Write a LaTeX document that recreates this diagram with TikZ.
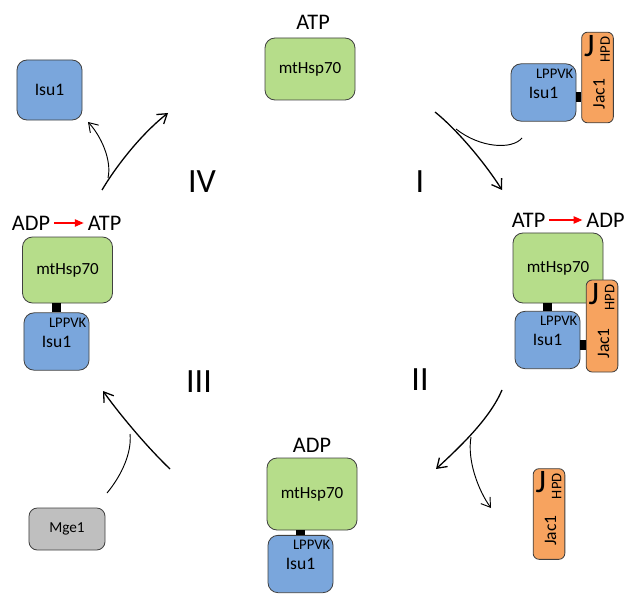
\documentclass[tikz,border=0pt]{standalone}
\usepackage{fontspec}
\setmainfont{Carlito}
\usepackage{tikz}
\usetikzlibrary{arrows.meta}
\usetikzlibrary{calc}
\usetikzlibrary{positioning}

\definecolor{hspgreen}{RGB}{182,221,138}
\definecolor{isublue}{RGB}{122,166,220}
\definecolor{jacorange}{RGB}{247,163,95}
\definecolor{mgegray}{RGB}{191,191,191}
\definecolor{edge}{RGB}{64,64,64}

\begin{document}
\begin{tikzpicture}[x=0.03cm, y=-0.03cm]
    \tikzstyle{hsp}=[draw=edge, fill=hspgreen, line width=0.7pt, rounded corners=3mm, inner sep=0pt, minimum width=2.7cm, font=\fontsize{14.5}{16}\selectfont]
    \tikzstyle{isu}=[draw=edge, fill=isublue, line width=0.7pt, rounded corners=3mm, inner sep=0pt, minimum width=1.95cm, minimum height=1.72cm, font=\fontsize{15}{17}\selectfont]
    \tikzstyle{jac}=[draw=edge, fill=jacorange, line width=0.7pt, rounded corners=1.8mm, inner sep=0pt, minimum width=0.95cm, minimum height=2.72cm]
    \tikzstyle{mge}=[draw=edge, fill=mgegray, line width=0.7pt, rounded corners=2.5mm, inner sep=0pt, minimum width=2.28cm, minimum height=1.26cm, font=\fontsize{13}{15}\selectfont]
    \tikzstyle{motif}=[inner sep=0pt, font=\fontsize{12.5}{14}\selectfont]
    \tikzstyle{jbig}=[inner sep=0pt, font=\fontsize{28}{30}\selectfont]
    \tikzstyle{hpd}=[inner sep=0pt, rotate=90, font=\fontsize{12.5}{14}\selectfont]
    \tikzstyle{jlbl}=[inner sep=0pt, rotate=90, font=\fontsize{15}{17}\selectfont]
    \tikzstyle{nuc}=[font=\fontsize{19}{21}\selectfont]
    \tikzstyle{roman}=[font=\fontsize{29}{31}\selectfont]
    \tikzset{bond/.style={line width=2.6mm, black},
      cyc/.style={line width=1.1pt, -{Straight Barb[length=2.7mm, width=3.6mm]}},
      side/.style={line width=0.8pt},
      conv/.style={red, line width=0.9pt, -{Triangle[length=2.6mm, width=2.2mm]}}}
    \useasboundingbox (0,0) rectangle (629,597);
    % top: mtHsp70 with ATP, Isu1 with Jac1
    \node[nuc] (atpT) at (313,22) {ATP};
    \node[hsp, minimum height=1.86cm] (hT) at (310,69) {mtHsp70};
    \node[isu] (iTR) at (543.5,92.5) {Isu1};
    \node[jac] (jTR) at (597.5,77.5) {};
    % right
    \node[nuc] (atpR) at (528.5,220) {ATP};
    \node[nuc] (adpR) at (605.5,220) {ADP};
    \node[hsp, minimum height=2.1cm] (hR) at (558,268) {mtHsp70};
    \node[isu] (iR) at (547.5,340) {Isu1};
    \node[jac, minimum height=2.76cm] (jR) at (602,326) {};
    % bottom
    \node[nuc] (adpB) at (312,445) {ADP};
    \node[hsp, minimum height=2.16cm] (hB) at (312,494) {mtHsp70};
    \node[isu] (iB) at (300.5,564) {Isu1};
    \node[jac] (jF) at (549,514) {};
    \node[mge] (mge) at (67,529) {Mge1};
    % left
    \node[nuc] (adpL) at (31,223) {ADP};
    \node[nuc] (atpL) at (104.5,223) {ATP};
    \node[hsp, minimum height=1.98cm] (hL) at (67.5,270) {mtHsp70};
    \node[isu] (iL) at (56.5,341.5) {Isu1};
    \node[isu, minimum height=1.8cm] (iTL) at (49.5,90) {Isu1};

    \foreach \i in {iTR, iR, iB, iL}
      {\node[motif, anchor=base east] at ($(\i.north east)+(-3,15)$) {LPPVK};}
    \foreach \j in {jTR, jR, jF}
      {\node[jbig] at ($(\j.north west)+(8,14)$) {J};
       \node[hpd] at ($(\j.north west)+(24,18)$) {HPD};
       \node[jlbl] at ($(\j.south)+(1.5,-29)$) {Jac1};}

    % bonds
    \foreach \i/\h in {iR/hR, iB/hB, iL/hL}
      {\draw[bond] (\i.north) -- (\i.north |- \h.south);}
    \foreach \i/\j in {iTR/jTR, iR/jR}
      {\draw[bond, line width=3mm] ($(\i.east)+(0,5)$) -- ($(\i.east -| \j.west)+(0,5)$);}

    \draw[conv] (atpR) -- (adpR);
    \draw[conv] (adpL) -- (atpL);

    \node[roman] (n1) at (420,182) {I};
    \node[roman] (n2) at (420,380) {II};
    \node[roman] (n3) at (199,382) {III};
    \node[roman] (n4) at (202,182) {IV};

    % cycle arrows
    \coordinate (s1) at (435,112); \coordinate (e1) at (502,190);
    \coordinate (b1) at (522,138); \coordinate (m1) at (456,129);
    \draw[cyc] (s1) .. controls (455,128) and (483,160) .. (e1);
    \draw[side] (b1) .. controls (512,150) and (480,148) .. (m1);

    \coordinate (s2) at (502,390); \coordinate (e2) at (436,469);
    \coordinate (m2) at (471,437); \coordinate (f2) at (491,508);
    \draw[cyc] (s2) .. controls (490,418) and (462,445) .. (e2);
    \draw[side, -{Straight Barb[length=2.6mm, width=3.4mm]}] (m2) .. controls (467,460) and (478,490) .. (f2);

    \coordinate (s3) at (170,469); \coordinate (e3) at (103,391);
    \coordinate (f3) at (107,493); \coordinate (m3) at (130,434);
    \draw[cyc] (s3) .. controls (145,445) and (118,412) .. (e3);
    \draw[side] (f3) .. controls (122,475) and (132,452) .. (m3);

    \coordinate (s4) at (102,190); \coordinate (e4) at (168,113);
    \coordinate (m4) at (108,178); \coordinate (f4) at (88,122);
    \draw[cyc] (s4) .. controls (115,168) and (140,135) .. (e4);
    \draw[side, -{Straight Barb[length=2.6mm, width=3.4mm]}] (m4) .. controls (112,160) and (101,136) .. (f4);
\end{tikzpicture}
\end{document}
